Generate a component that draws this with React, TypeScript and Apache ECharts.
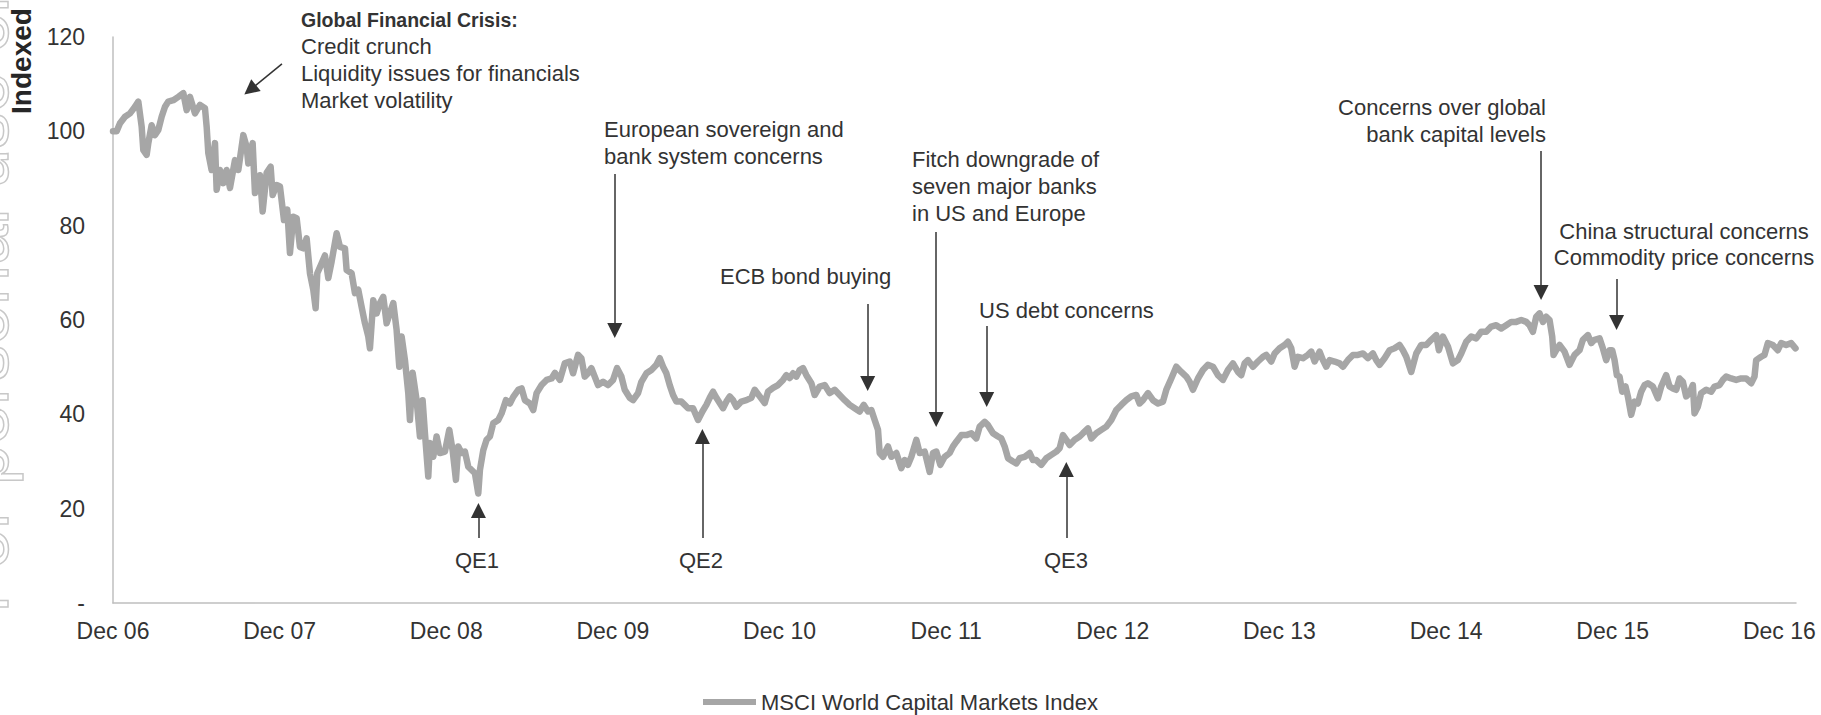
import React, { useEffect, useRef } from 'react';
import * as echarts from 'echarts';

const FONT = '"Liberation Sans", Arial, Helvetica, sans-serif';
const SERIES_NAME = 'MSCI World Capital Markets Index';
const TEXT_COLOR = '#333333';
const LINE_COLOR = '#a6a6a6';

// x position: years elapsed since Dec 2006 (tick "Dec 06" = 0, "Dec 16" = 10)
const yearsSinceDec06 = [
  0.000, 0.022, 0.042, 0.072, 0.102, 0.132, 0.152, 0.172, 0.182, 0.202, 0.212, 0.232, 0.252, 0.272, 0.292, 0.312,
  0.332, 0.362, 0.392, 0.422, 0.442, 0.462, 0.492, 0.522, 0.552, 0.562, 0.572, 0.592, 0.612, 0.622, 0.642, 0.662,
  0.682, 0.702, 0.732, 0.752, 0.782, 0.802, 0.812, 0.838, 0.852, 0.882, 0.898, 0.922, 0.946, 0.958, 0.982, 1.002,
  1.026, 1.046, 1.062, 1.082, 1.102, 1.122, 1.142, 1.162, 1.182, 1.202, 1.216, 1.226, 1.252, 1.272, 1.292, 1.312,
  1.342, 1.362, 1.392, 1.402, 1.432, 1.452, 1.472, 1.492, 1.512, 1.532, 1.542, 1.562, 1.582, 1.602, 1.622, 1.642,
  1.662, 1.682, 1.702, 1.718, 1.732, 1.752, 1.772, 1.782, 1.798, 1.822, 1.842, 1.858, 1.872, 1.892, 1.902, 1.922,
  1.942, 1.962, 1.992, 2.018, 2.038, 2.058, 2.072, 2.092, 2.112, 2.132, 2.152, 2.172, 2.192, 2.202, 2.222, 2.242,
  2.262, 2.282, 2.312, 2.332, 2.358, 2.382, 2.402, 2.432, 2.452, 2.472, 2.502, 2.522, 2.542, 2.572, 2.602, 2.632,
  2.652, 2.682, 2.711, 2.741, 2.761, 2.791, 2.811, 2.831, 2.851, 2.871, 2.891, 2.911, 2.941, 2.971, 3.001, 3.025,
  3.051, 3.071, 3.101, 3.121, 3.151, 3.171, 3.201, 3.231, 3.261, 3.281, 3.301, 3.321, 3.341, 3.361, 3.381, 3.411,
  3.431, 3.451, 3.481, 3.511, 3.537, 3.561, 3.581, 3.601, 3.621, 3.641, 3.661, 3.681, 3.701, 3.721, 3.741, 3.771,
  3.801, 3.831, 3.851, 3.881, 3.911, 3.931, 3.961, 3.991, 4.021, 4.041, 4.061, 4.081, 4.101, 4.121, 4.141, 4.161,
  4.191, 4.211, 4.241, 4.271, 4.301, 4.331, 4.361, 4.391, 4.421, 4.451, 4.481, 4.505, 4.531, 4.551, 4.571, 4.591,
  4.601, 4.621, 4.651, 4.671, 4.701, 4.731, 4.751, 4.771, 4.791, 4.821, 4.841, 4.871, 4.901, 4.921, 4.941, 4.965,
  4.991, 5.021, 5.041, 5.061, 5.091, 5.121, 5.151, 5.181, 5.201, 5.231, 5.251, 5.281, 5.311, 5.331, 5.351, 5.371,
  5.401, 5.421, 5.441, 5.471, 5.501, 5.521, 5.541, 5.571, 5.601, 5.631, 5.661, 5.681, 5.701, 5.721, 5.741, 5.771,
  5.801, 5.821, 5.851, 5.871, 5.901, 5.931, 5.961, 5.991, 6.021, 6.051, 6.081, 6.111, 6.141, 6.161, 6.181, 6.211,
  6.241, 6.271, 6.301, 6.321, 6.351, 6.381, 6.411, 6.441, 6.461, 6.481, 6.511, 6.541, 6.571, 6.601, 6.631, 6.661,
  6.691, 6.721, 6.751, 6.771, 6.791, 6.811, 6.841, 6.871, 6.901, 6.921, 6.951, 6.971, 7.001, 7.031, 7.051, 7.071,
  7.091, 7.111, 7.141, 7.171, 7.191, 7.211, 7.241, 7.261, 7.281, 7.301, 7.331, 7.361, 7.381, 7.411, 7.441, 7.471,
  7.501, 7.531, 7.561, 7.581, 7.601, 7.631, 7.661, 7.691, 7.721, 7.741, 7.761, 7.791, 7.821, 7.851, 7.881, 7.911,
  7.941, 7.957, 7.981, 8.011, 8.041, 8.071, 8.091, 8.121, 8.151, 8.181, 8.211, 8.241, 8.271, 8.301, 8.331, 8.361,
  8.391, 8.421, 8.451, 8.481, 8.501, 8.521, 8.541, 8.561, 8.581, 8.601, 8.621, 8.637, 8.645, 8.661, 8.681, 8.711,
  8.741, 8.771, 8.801, 8.821, 8.851, 8.871, 8.891, 8.921, 8.941, 8.961, 8.981, 8.997, 9.011, 9.025, 9.041, 9.057,
  9.077, 9.091, 9.111, 9.131, 9.151, 9.171, 9.191, 9.211, 9.241, 9.271, 9.291, 9.321, 9.341, 9.361, 9.381, 9.401,
  9.421, 9.441, 9.461, 9.481, 9.491, 9.511, 9.531, 9.561, 9.591, 9.611, 9.641, 9.661, 9.681, 9.711, 9.741, 9.771,
  9.801, 9.831, 9.851, 9.861, 9.891, 9.911, 9.931, 9.961, 9.991, 10.011, 10.041, 10.071, 10.097,
];

// MSCI World Capital Markets Index, indexed to 100 at Dec 2006
const indexValues = [
  100.0, 100.0, 101.7, 103.1, 103.8, 105.2, 106.3, 101.0, 96.0, 95.0, 97.5, 101.3, 99.2, 100.3, 103.1, 105.2,
  106.3, 106.6, 107.3, 108.1, 104.5, 107.3, 103.8, 105.6, 104.9, 101.0, 95.4, 91.8, 97.5, 87.6, 91.8, 89.0,
  91.8, 88.0, 93.9, 91.8, 99.2, 96.7, 93.2, 97.5, 86.9, 90.7, 83.0, 91.2, 92.5, 86.5, 88.6, 88.3,
  81.2, 83.4, 74.2, 81.9, 81.6, 75.5, 75.2, 77.3, 69.9, 66.4, 62.5, 69.9, 72.0, 73.7, 68.9, 72.4,
  78.4, 75.5, 75.2, 70.6, 69.9, 65.7, 66.4, 62.8, 59.3, 56.5, 54.0, 64.2, 61.4, 63.6, 64.9, 59.3,
  61.5, 63.6, 57.9, 50.1, 56.5, 51.5, 44.5, 38.8, 48.8, 43.0, 35.3, 43.0, 36.0, 26.8, 33.9, 31.0,
  35.3, 31.8, 32.1, 36.7, 32.4, 26.1, 33.2, 31.8, 32.1, 28.9, 28.2, 27.5, 23.2, 28.2, 32.4, 34.6,
  35.3, 38.1, 38.8, 40.2, 43.0, 42.3, 43.7, 45.2, 45.5, 43.0, 42.3, 40.9, 44.5, 46.2, 47.3, 47.6,
  48.8, 47.3, 50.8, 51.2, 48.7, 52.6, 51.9, 48.0, 48.7, 49.8, 48.0, 46.2, 46.9, 46.2, 47.3, 49.8,
  48.0, 45.2, 43.5, 43.0, 44.5, 46.9, 48.7, 49.4, 50.5, 51.9, 50.1, 48.7, 46.2, 44.1, 42.7, 42.7,
  42.0, 41.3, 41.3, 38.8, 40.6, 42.0, 43.5, 44.8, 43.5, 42.4, 41.3, 42.7, 43.8, 43.0, 41.6, 42.7,
  43.0, 43.5, 45.2, 43.8, 42.4, 44.8, 45.6, 46.2, 47.3, 48.3, 47.7, 48.7, 48.0, 49.4, 49.8, 48.3,
  46.6, 44.1, 45.9, 46.2, 44.5, 45.2, 44.1, 43.0, 42.0, 41.3, 40.6, 42.0, 40.6, 40.9, 38.8, 36.7,
  31.8, 31.0, 33.2, 31.0, 31.8, 28.6, 30.3, 29.3, 31.0, 34.6, 31.8, 32.1, 27.8, 31.8, 32.1, 29.3,
  31.0, 31.8, 33.2, 34.2, 35.6, 35.6, 36.0, 34.9, 37.4, 38.4, 37.7, 36.0, 35.3, 34.9, 33.2, 30.7,
  30.0, 29.6, 30.7, 31.0, 31.8, 30.3, 30.3, 29.3, 30.7, 31.4, 32.1, 32.8, 35.6, 34.6, 33.5, 34.6,
  35.3, 36.0, 37.0, 34.9, 36.0, 36.7, 37.4, 38.8, 40.9, 42.0, 43.0, 43.8, 44.1, 42.3, 43.0, 44.5,
  43.0, 42.3, 42.7, 45.2, 47.6, 50.1, 49.0, 48.0, 46.9, 45.2, 47.6, 49.4, 50.5, 50.1, 48.3, 47.3,
  49.4, 50.8, 49.0, 48.3, 50.8, 51.5, 50.1, 51.2, 52.2, 52.6, 51.2, 52.9, 54.0, 54.7, 55.4, 54.0,
  50.1, 52.2, 51.9, 52.6, 53.3, 51.2, 53.3, 51.5, 50.1, 51.5, 51.2, 50.8, 50.1, 51.5, 52.6, 52.6,
  52.9, 51.9, 52.9, 51.5, 50.5, 51.9, 53.6, 54.0, 54.7, 53.6, 52.2, 49.0, 52.9, 54.7, 54.7, 55.8,
  56.8, 53.6, 56.5, 54.4, 50.8, 51.5, 52.9, 55.4, 56.5, 56.1, 57.5, 57.5, 58.6, 58.9, 58.2, 58.9,
  59.6, 59.6, 60.0, 59.6, 58.9, 57.5, 60.7, 61.4, 59.6, 60.7, 60.0, 56.5, 52.6, 53.6, 54.7, 53.3,
  50.5, 52.6, 53.6, 55.8, 56.8, 55.1, 55.8, 56.1, 54.0, 51.5, 53.6, 53.6, 51.5, 48.3, 48.0, 44.8,
  45.9, 43.8, 39.9, 42.7, 42.3, 44.8, 46.2, 46.6, 45.9, 43.4, 45.9, 48.3, 45.9, 45.5, 45.2, 47.6,
  46.9, 43.8, 44.5, 46.2, 40.2, 41.6, 44.5, 45.2, 44.8, 45.9, 46.2, 47.3, 48.0, 47.6, 47.3, 47.6,
  47.6, 46.6, 48.0, 51.5, 52.2, 52.6, 55.1, 54.7, 53.6, 55.1, 54.7, 55.1, 54.0,
];

// Annotation arrows in data space: [x (years), start value] -> [x (years), end value]
const arrowFrom = [
  [1.014, 114.3], [3.011, 90.95], [4.529, 63.39], [4.94, 78.66], [5.243, 58.73],
  [8.57, 95.83], [9.023, 68.69], [2.193, 13.78], [3.537, 13.78], [5.721, 13.78],
];
const arrowTo = [
  [0.823, 108.8], [3.011, 57.77], [4.529, 46.54], [4.94, 38.9], [5.243, 43.14],
  [8.57, 65.83], [9.023, 59.47], [2.193, 19.61], [3.537, 35.3], [5.721, 28.3],
];

const Y_MAX = 120;
const Y_STEP = 20;
const X_MAX = 10.1;

function txt(text: string, x: number, y: number, align = 'left', bold = false, size = 22) {
  return {
    type: 'text',
    x,
    y,
    silent: true,
    style: {
      text,
      fill: TEXT_COLOR,
      font: `${bold ? 'bold ' : ''}${size}px ${FONT}`,
      textAlign: align,
      textVerticalAlign: 'middle',
      align,
      verticalAlign: 'middle',
    },
  };
}

export default function App() {
  const ref = useRef<HTMLDivElement>(null);

  useEffect(() => {
    document.body.style.margin = '0';
    const chart = echarts.init(ref.current as HTMLDivElement, null, { renderer: 'svg' });
    const data = yearsSinceDec06.map((t, i) => [t, indexValues[i]]);
    const arrows = arrowFrom.map((f, i) => [{ coord: f }, { coord: arrowTo[i] }]);

    chart.setOption({
      animation: false,
      textStyle: { fontFamily: FONT },
      grid: { left: 113, right: 25, top: 37, bottom: 112, containLabel: false, outerBoundsMode: 'none' },
      xAxis: {
        type: 'value',
        min: 0,
        max: X_MAX,
        interval: 1,
        axisLine: { show: true, onZero: false, lineStyle: { color: '#bfbfbf', width: 1.5 } },
        axisTick: { show: false },
        splitLine: { show: false },
        axisLabel: {
          showMaxLabel: false,
          margin: 16,
          fontSize: 23,
          color: TEXT_COLOR,
          fontFamily: FONT,
          formatter: (v: number) => 'Dec ' + String(6 + Math.round(v)).padStart(2, '0'),
        },
      },
      yAxis: {
        type: 'value',
        min: 0,
        max: Y_MAX,
        interval: Y_STEP,
        axisLine: { show: true, onZero: false, lineStyle: { color: '#bfbfbf', width: 1.5 } },
        axisTick: { show: false },
        splitLine: { show: false },
        axisLabel: {
          margin: 28,
          fontSize: 23,
          color: TEXT_COLOR,
          fontFamily: FONT,
          formatter: (v: number) => (v === 0 ? '-' : String(v)),
        },
      },
      legend: {
        data: [SERIES_NAME],
        left: 703,
        top: 691,
        icon: 'rect',
        itemWidth: 53,
        itemHeight: 6,
        selectedMode: false,
        padding: 0,
        textStyle: { fontSize: 22, color: TEXT_COLOR, fontFamily: FONT },
      },
      series: [
        {
          type: 'line',
          name: SERIES_NAME,
          data,
          symbol: 'none',
          showSymbol: false,
          lineStyle: { color: LINE_COLOR, width: 6.5, join: 'round', cap: 'round' },
          itemStyle: { color: LINE_COLOR },
          emphasis: { disabled: true },
          markLine: {
            silent: true,
            animation: false,
            symbol: ['none', 'triangle'],
            symbolSize: 15,
            label: { show: false },
            emphasis: { disabled: true },
            lineStyle: { color: '#333333', width: 1.5, type: 'solid' },
            data: arrows,
          },
        },
      ],
      graphic: [
        {
          type: 'text',
          x: 19,
          y: 613,
          rotation: Math.PI / 2,
          z: -10,
          silent: true,
          style: {
            text: 'For personal use only',
            font: `72px ${FONT}`,
            fill: 'none',
            stroke: '#c8c8c8',
            lineWidth: 1.5,
            textAlign: 'left',
            textVerticalAlign: 'bottom',
            align: 'left',
            verticalAlign: 'bottom',
          },
        },
        {
          type: 'text',
          x: 21,
          y: 61,
          rotation: Math.PI / 2,
          silent: true,
          style: {
            text: 'Indexed',
            font: `bold 28px ${FONT}`,
            fill: '#262626',
            textAlign: 'center',
            textVerticalAlign: 'middle',
            align: 'center',
            verticalAlign: 'middle',
          },
        },
        txt('Global Financial Crisis:', 301, 20, 'left', true, 19.5),
        txt('Credit crunch', 301, 46.5),
        txt('Liquidity issues for financials', 301, 73),
        txt('Market volatility', 301, 100),
        txt('European sovereign and', 604, 129),
        txt('bank system concerns', 604, 156),
        txt('ECB bond buying', 720, 276),
        txt('Fitch downgrade of', 912, 159),
        txt('seven major banks', 912, 186),
        txt('in US and Europe', 912, 213),
        txt('US debt concerns', 979, 310),
        txt('Concerns over global', 1546, 107, 'right'),
        txt('bank capital levels', 1546, 134, 'right'),
        txt('China structural concerns', 1684, 231, 'center'),
        txt('Commodity price concerns', 1684, 257, 'center'),
        txt('QE1', 477, 560, 'center'),
        txt('QE2', 701, 560, 'center'),
        txt('QE3', 1066, 560, 'center'),
      ],
    });

    return () => chart.dispose();
  }, []);

  return <div ref={ref} style={{ width: 1821, height: 715 }} />;
}
